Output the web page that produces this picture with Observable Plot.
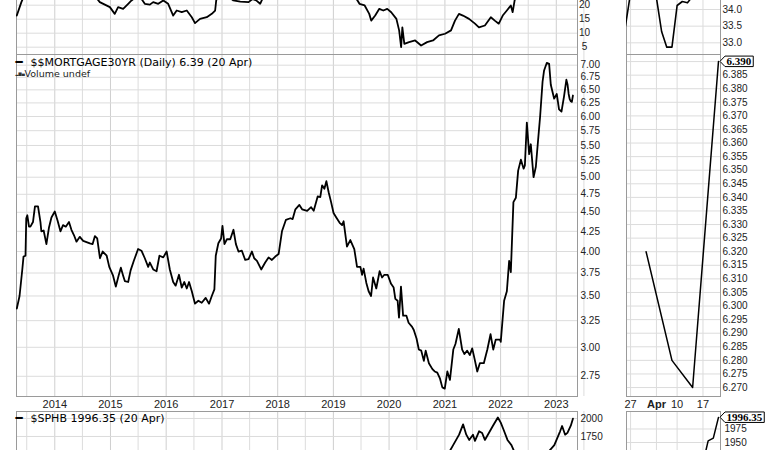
<!DOCTYPE html>
<html><head><meta charset="utf-8">
<script src="https://cdn.jsdelivr.net/npm/d3@7"></script>
<script src="https://cdn.jsdelivr.net/npm/@observablehq/plot@0.6"></script>
<style>
body{margin:0;background:#fff;}
#wrap{position:relative;width:770px;height:450px;overflow:hidden;background:#fff;}
</style></head><body><div id="wrap"></div>
<script>
// ---------- DATA ----------
const mortDates = ["2013-04-27","2013-05-15","2013-06-02","2013-06-10","2013-06-23","2013-06-28","2013-07-05","2013-07-16","2013-07-25","2013-08-11","2013-08-24","2013-09-13","2013-09-29","2013-10-05","2013-10-20","2013-11-07","2013-11-24","2013-12-10","2014-01-01","2014-01-19","2014-02-07","2014-02-24","2014-03-14","2014-04-04","2014-04-20","2014-05-07","2014-05-23","2014-06-14","2014-07-06","2014-08-19","2014-09-06","2014-09-21","2014-10-06","2014-10-24","2014-11-11","2014-12-07","2014-12-24","2015-01-18","2015-02-05","2015-02-23","2015-03-10","2015-03-25","2015-04-05","2015-04-27","2015-05-13","2015-06-03","2015-07-01","2015-07-23","2015-08-14","2015-09-05","2015-09-16","2015-10-08","2015-10-30","2015-11-18","2015-12-13","2016-01-04","2016-01-25","2016-02-16","2016-03-03","2016-03-25","2016-04-12","2016-04-29","2016-05-15","2016-05-30","2016-06-17","2016-07-08","2016-07-30","2016-08-21","2016-09-16","2016-10-08","2016-10-26","2016-11-12","2016-11-21","2016-12-08","2016-12-26","2017-01-04","2017-01-17","2017-02-02","2017-02-24","2017-03-17","2017-04-02","2017-04-19","2017-05-11","2017-06-02","2017-06-24","2017-07-16","2017-07-31","2017-08-18","2017-09-15","2017-10-11","2017-11-02","2017-11-24","2017-12-16","2018-01-07","2018-01-29","2018-02-24","2018-03-25","2018-04-09","2018-04-27","2018-05-23","2018-06-10","2018-06-27","2018-07-13","2018-08-08","2018-08-25","2018-09-20","2018-10-07","2018-10-19","2018-11-03","2018-11-16","2018-12-01","2018-12-17","2019-01-02","2019-01-20","2019-02-11","2019-02-27","2019-03-09","2019-03-31","2019-04-22","2019-05-18","2019-06-05","2019-06-27","2019-07-08","2019-07-18","2019-08-05","2019-08-20","2019-09-05","2019-09-18","2019-10-09","2019-10-31","2019-11-16","2019-12-01","2019-12-23","2020-01-14","2020-01-31","2020-02-11","2020-02-26","2020-03-06","2020-03-19","2020-04-02","2020-04-23","2020-05-08","2020-05-31","2020-06-11","2020-06-29","2020-07-14","2020-07-30","2020-08-16","2020-08-28","2020-09-18","2020-10-11","2020-10-26","2020-11-12","2020-11-30","2020-12-15","2020-12-31","2021-01-17","2021-02-03","2021-02-25","2021-03-11","2021-04-02","2021-04-24","2021-05-09","2021-05-27","2021-06-13","2021-06-29","2021-07-14","2021-08-01","2021-08-18","2021-09-13","2021-10-06","2021-10-27","2021-11-14","2021-11-30","2021-12-28","2022-01-02","2022-01-24","2022-02-11","2022-02-26","2022-03-09","2022-03-26","2022-04-11","2022-04-26","2022-05-14","2022-06-01","2022-06-09","2022-06-22","2022-07-07","2022-07-18","2022-08-05","2022-08-20","2022-09-04","2022-09-17","2022-10-03","2022-10-13","2022-10-31","2022-11-15","2022-11-26","2022-12-18","2023-01-04","2023-01-19","2023-02-04","2023-02-21","2023-03-08","2023-03-16","2023-03-23","2023-03-30","2023-04-06","2023-04-13","2023-04-20"];
const mortRates = [3.37,3.50,3.79,3.94,3.95,4.42,4.46,4.31,4.31,4.37,4.58,4.58,4.37,4.25,4.26,4.09,4.30,4.43,4.51,4.39,4.25,4.33,4.31,4.37,4.27,4.20,4.12,4.18,4.13,4.10,4.09,4.19,4.16,3.92,4.00,3.95,3.82,3.72,3.60,3.72,3.81,3.72,3.66,3.65,3.78,3.89,4.03,4.01,3.92,3.82,3.87,3.79,3.77,3.95,3.93,4.00,3.79,3.65,3.61,3.73,3.59,3.65,3.58,3.65,3.55,3.42,3.45,3.43,3.48,3.42,3.50,3.57,3.95,4.10,4.16,4.32,4.09,4.15,4.15,4.27,4.09,4.00,4.01,3.90,3.91,4.00,3.92,3.89,3.79,3.87,3.93,3.90,3.94,3.97,4.25,4.40,4.42,4.41,4.54,4.60,4.54,4.53,4.52,4.57,4.52,4.72,4.71,4.88,4.83,4.94,4.78,4.64,4.49,4.43,4.36,4.33,4.38,4.06,4.14,4.03,3.82,3.82,3.73,3.80,3.64,3.55,3.50,3.70,3.58,3.77,3.70,3.73,3.73,3.63,3.59,3.47,3.45,3.28,3.60,3.30,3.30,3.23,3.19,3.16,3.08,2.98,2.97,2.88,2.97,2.86,2.81,2.79,2.78,2.73,2.66,2.65,2.79,2.72,2.98,3.03,3.17,2.98,2.94,2.97,2.93,2.99,2.90,2.79,2.86,2.86,2.98,3.12,2.98,3.07,3.07,3.05,3.45,3.55,3.89,3.76,4.64,4.70,5.10,5.27,5.13,5.18,5.89,5.36,5.52,5.00,5.16,5.60,6.00,6.66,6.89,7.05,7.03,6.60,6.33,6.42,6.13,6.09,6.38,6.70,6.60,6.42,6.32,6.28,6.27,6.39];

const topDates = ["2013-04-27","2013-05-27","2013-06-15","2014-03-01","2014-09-25","2014-10-23","2014-12-28","2015-01-29","2015-02-20","2015-03-25","2015-04-27","2015-05-19","2015-06-20","2015-07-20","2015-08-14","2015-09-16","2015-10-08","2015-11-10","2015-12-13","2016-01-14","2016-02-16","2016-03-10","2016-04-12","2016-05-15","2016-06-17","2016-07-08","2016-08-10","2016-09-23","2016-10-26","2016-11-17","2016-11-24","2016-12-15","2017-02-15","2017-03-15","2017-05-01","2017-06-24","2017-07-20","2017-08-13","2017-09-08","2017-09-25","2018-03-01","2019-01-01","2019-05-20","2019-06-08","2019-06-21","2019-07-25","2019-08-24","2019-09-06","2019-10-02","2019-10-29","2019-11-24","2019-12-20","2020-01-15","2020-02-18","2020-03-07","2020-03-20","2020-03-28","2020-04-10","2020-05-11","2020-06-20","2020-07-29","2020-09-06","2020-10-15","2020-11-23","2021-01-02","2021-02-10","2021-03-08","2021-04-03","2021-04-29","2021-06-08","2021-07-17","2021-08-12","2021-09-20","2021-10-29","2021-11-24","2021-12-20","2022-01-15","2022-02-11","2022-03-09","2022-03-21","2022-04-03","2022-04-20","2023-04-20"];
const topValues = [16.3,21.1,23.5,26.0,23.0,21.1,19.3,16.9,19.3,18.7,20.5,21.7,23.0,22.5,20.5,20.2,21.1,20.5,21.7,20.5,16.3,18.1,17.5,18.1,15.7,13.6,15.1,15.7,16.9,18.1,21.7,24.0,23.0,21.7,21.3,21.1,22.2,21.7,20.5,22.5,26.0,24.0,23.0,21.7,20.5,19.9,16.9,14.5,16.3,18.7,18.1,18.7,17.5,15.1,11.0,5.0,12.1,6.2,6.8,7.4,5.6,6.8,7.4,9.2,9.8,11.0,14.5,16.9,16.3,15.1,13.4,12.1,12.75,15.7,14.5,13.4,16.3,18.1,19.9,17.5,21.7,24.0,25.0];

const sphbDates = ["2020-11-15","2021-01-29","2021-02-24","2021-04-04","2021-04-30","2021-05-21","2021-06-09","2021-07-04","2021-07-17","2021-08-13","2021-09-02","2021-09-20","2021-10-16","2021-11-11","2021-12-14","2022-01-02","2022-01-20","2022-02-15","2022-03-13","2022-04-02","2022-06-15","2022-10-01","2022-11-09","2022-12-19","2023-01-26","2023-02-08","2023-02-28","2023-03-15","2023-04-06","2023-04-20"];
const sphbValues = [1400,1533,1630,1775,1919,1775,1702,1775,1688,1822,1798,1702,1798,1895,2014,1942,1847,1702,1630,1533,1400,1420,1533,1630,1822,1895,1775,1800,1900,1996.35];

// right-hand zoom panels (trading days)
const tradeDays = ["2023-03-24","2023-03-27","2023-03-28","2023-03-29","2023-03-30","2023-03-31","2023-04-03","2023-04-04","2023-04-05","2023-04-06","2023-04-10","2023-04-11","2023-04-12","2023-04-13","2023-04-14","2023-04-17","2023-04-18","2023-04-19","2023-04-20"];
const topRightValues = [33.5,34.5,34.6,34.6,34.6,34.6,34.35,33.34,32.87,32.87,34.12,34.24,34.2,34.4,34.5,34.6,34.6,34.6,34.6];
const mortRightDays = ["2023-03-30","2023-04-06","2023-04-13","2023-04-20"];
const mortRightValues = [6.32,6.28,6.27,6.39];
const sphbRightDays = ["2023-04-13","2023-04-14","2023-04-17","2023-04-18","2023-04-19","2023-04-20"];
const sphbRightValues = [1885,1895,1912,1953,1958,1996.35];

// tick labels
const mainTicks = [2.75,3.00,3.25,3.50,3.75,4.00,4.25,4.50,4.75,5.00,5.25,5.50,5.75,6.00,6.25,6.50,6.75,7.00];
const topTicks = [5,10,15,20];
const sphbTicks = [1500,1750,2000];
const yearLabels = ["2014","2015","2016","2017","2018","2019","2020","2021","2022","2023"];
const mortRightTicks = [6.270,6.275,6.280,6.285,6.290,6.295,6.300,6.305,6.310,6.315,6.320,6.325,6.330,6.335,6.340,6.345,6.350,6.355,6.360,6.365,6.370,6.375,6.380,6.385,6.390];
const topRightTicks = [33.0,33.5,34.0];
const sphbRightTicks = [1950,1975];
const rightTickDays = ["2023-03-27","2023-04-03","2023-04-10","2023-04-17"];
const rightTickLabels = ["27","Apr","10","17"];
const mortTitle = "$$MORTGAGE30YR (Daily) 6.39 (20 Apr)";
const sphbTitle = "$SPHB 1996.35 (20 Apr)";

// ---------- BUILD ----------
const parse = d3.utcParse("%Y-%m-%d");
const mort = mortDates.map((d, i) => ({date: parse(d), value: mortRates[i]}));
const top1 = topDates.map((d, i) => ({date: parse(d), value: topValues[i]}));
const sphb = sphbDates.map((d, i) => ({date: parse(d), value: sphbValues[i]}));
const topR = tradeDays.map((d, i) => ({i, value: topRightValues[i]}));
const mortR = mortRightDays.map((d, k) => ({i: tradeDays.indexOf(d), value: mortRightValues[k]}));
const sphbR = sphbRightDays.map((d, k) => ({i: tradeDays.indexOf(d), value: sphbRightValues[k]}));
const rightTickIdx = rightTickDays.map(d => tradeDays.indexOf(d));
const rightLabelMap = new Map(rightTickIdx.map((v, k) => [v, rightTickLabels[k]]));
const years = yearLabels.map(y => parse(y + "-01-01"));
const gridYear = d3.utcYear.range(parse("2014-01-01"), parse("2023-06-01"));
const gridHalf = d3.utcYear.range(parse("2013-01-01"), parse("2023-06-01")).map(d => d3.utcMonth.offset(d, 6));

const W = 770;
const FS = "Liberation Sans, Arial, Helvetica, sans-serif";
const VF = "DejaVu Sans, Verdana, sans-serif";
const xDomain = [parse("2013-04-25"), parse("2023-05-20")];
const rDomain = [0.21, 18.39];
const L = {marginLeft: 16, marginRight: W - 577};
const R = {marginLeft: 626, marginRight: W - 720};
const style = {fontFamily: FS, fontSize: "10px", color: "#222", background: "transparent", overflow: "visible"};
const GRID = "#dcdcdc", GRIDY = "#cfcfcf", BORDER = "#9a9a9a";

const wrap = document.getElementById("wrap");
function add(svg, top) {
  svg.style.position = "absolute"; svg.style.left = "0px"; svg.style.top = top + "px";
  wrap.appendChild(svg); return svg;
}
function leftGrid() {
  return [Plot.ruleX(gridHalf, {stroke: GRID}), Plot.ruleX(gridYear, {stroke: GRIDY})];
}

// top-left strip
add(Plot.plot({
  width: W, height: 58, marginTop: 0, marginBottom: 2, ...L, style,
  x: {type: "utc", domain: xDomain, label: null, axis: null},
  y: {domain: [2.39, 22.39], label: null},
  marks: [
    ...leftGrid(),
    Plot.ruleY(topTicks, {stroke: GRID}),
    Plot.frame({stroke: BORDER}),
    Plot.axisY(topTicks, {anchor: "right", tickSize: 0, tickPadding: 7, textAnchor: "middle", tickFormat: d => String(d), fontSize: 10}),
    Plot.line(top1, {x: "date", y: "value", stroke: "#000", strokeWidth: 1.8, clip: true})
  ]
}), -2);

// top-right strip
add(Plot.plot({
  width: W, height: 58, marginTop: 0, marginBottom: 2, ...R, style,
  x: {domain: rDomain, label: null, axis: null},
  y: {domain: [32.65, 34.33], label: null},
  marks: [
    Plot.ruleX(rightTickIdx, {stroke: GRID}),
    Plot.ruleY(topRightTicks, {stroke: GRID}),
    Plot.frame({stroke: BORDER}),
    Plot.axisY(topRightTicks, {anchor: "right", tickSize: 0, tickPadding: 2, tickFormat: d => d.toFixed(1), fontSize: 10}),
    Plot.line(topR, {x: "i", y: "value", stroke: "#000", strokeWidth: 1.6, clip: true})
  ]
}), -2);

// main mortgage panel
add(Plot.plot({
  width: W, height: 358, marginTop: 0, marginBottom: 16, ...L, style,
  x: {type: "utc", domain: xDomain, label: null},
  y: {type: "log", domain: [2.588, 7.228], label: null},
  marks: [
    ...leftGrid(),
    Plot.ruleY(mainTicks, {stroke: GRID}),
    Plot.frame({stroke: BORDER}),
    Plot.axisY(mainTicks, {anchor: "right", tickSize: 0, tickPadding: 3, tickFormat: d => d.toFixed(2), fontSize: 10}),
    Plot.axisX(years, {anchor: "bottom", tickSize: 0, tickPadding: 4, tickFormat: d3.utcFormat("%Y"), fontSize: 11}),
    Plot.line(mort, {x: "date", y: "value", stroke: "#000", strokeWidth: 1.8, clip: true}),
    Plot.text(["\u2501"], {frameAnchor: "top-left", dx: -1, dy: 8, textAnchor: "start", lineAnchor: "middle", fontFamily: VF, fontSize: 12, fontWeight: "bold", fill: "#000"}),
    Plot.text([mortTitle], {frameAnchor: "top-left", dx: 14, dy: 8, textAnchor: "start", lineAnchor: "middle", fontFamily: VF, fontSize: 11, fill: "#000"}),
    Plot.text(["\u2582\u2586\u2584"], {frameAnchor: "top-left", dx: -1, dy: 19, textAnchor: "start", lineAnchor: "middle", fontFamily: VF, fontSize: 4, fill: "#333"}),
    Plot.text(["Volume undef"], {frameAnchor: "top-left", dx: 8, dy: 19, textAnchor: "start", lineAnchor: "middle", fontFamily: VF, fontSize: 9.5, fill: "#222"})
  ]
}), 54);

// right mortgage zoom
const mortRightSvg = add(Plot.plot({
  width: W, height: 358, marginTop: 0, marginBottom: 16, ...R, style,
  x: {domain: rDomain, label: null},
  y: {domain: [6.2667, 6.3926], label: null},
  marks: [
    Plot.ruleX(rightTickIdx, {stroke: GRID}),
    Plot.ruleY(mortRightTicks, {stroke: GRID}),
    Plot.frame({stroke: BORDER}),
    Plot.axisY(mortRightTicks.slice(0, -1), {anchor: "right", tickSize: 0, tickPadding: 2, tickFormat: d => d.toFixed(3), fontSize: 10}),
    Plot.axisX(rightTickIdx, {anchor: "bottom", tickSize: 0, tickPadding: 4, tickFormat: d => rightLabelMap.get(d), fontSize: 11}),
    Plot.line(mortR, {x: "i", y: "value", stroke: "#000", strokeWidth: 1.5, clip: true}),
    Plot.text([mortRightValues[mortRightValues.length - 1]], {y: d => d, frameAnchor: "right", dx: 6, textAnchor: "start", text: d => d.toFixed(3), fontFamily: "Liberation Serif, serif", fontWeight: "bold", fontSize: 11, fill: "#000"})
  ]
}), 54);

// bottom-left SPHB strip
add(Plot.plot({
  width: W, height: 52, marginTop: 1, marginBottom: 0, ...L, style,
  x: {type: "utc", domain: xDomain, label: null, axis: null},
  y: {domain: [1388.7, 2096.8], label: null},
  marks: [
    ...leftGrid(),
    Plot.ruleY(sphbTicks, {stroke: GRID}),
    Plot.frame({stroke: BORDER}),
    Plot.axisY(sphbTicks, {anchor: "right", tickSize: 0, tickPadding: 3, tickFormat: d => String(d), fontSize: 10}),
    Plot.line(sphb, {x: "date", y: "value", stroke: "#000", strokeWidth: 1.8, clip: true}),
    Plot.text(["\u2501"], {frameAnchor: "top-left", dx: -1, dy: 7, textAnchor: "start", lineAnchor: "middle", fontFamily: VF, fontSize: 12, fontWeight: "bold", fill: "#000"}),
    Plot.text([sphbTitle], {frameAnchor: "top-left", dx: 14, dy: 7, textAnchor: "start", lineAnchor: "middle", fontFamily: VF, fontSize: 11, fill: "#000"})
  ]
}), 410);

// bottom-right SPHB zoom
const sphbRightSvg = add(Plot.plot({
  width: W, height: 52, marginTop: 1, marginBottom: 0, ...R, style,
  x: {domain: rDomain, label: null, axis: null},
  y: {domain: [1913.1, 2007.3], label: null},
  marks: [
    Plot.ruleX(rightTickIdx, {stroke: GRID}),
    Plot.ruleY(sphbRightTicks, {stroke: GRID}),
    Plot.frame({stroke: BORDER}),
    Plot.axisY(sphbRightTicks, {anchor: "right", tickSize: 0, tickPadding: 4, tickFormat: d => String(d), fontSize: 10}),
    Plot.line(sphbR, {x: "i", y: "value", stroke: "#000", strokeWidth: 1.5, clip: true}),
    Plot.text([sphbRightValues[sphbRightValues.length - 1]], {y: d => d, frameAnchor: "right", dx: 6, textAnchor: "start", text: d => d.toFixed(2), fontFamily: "Liberation Serif, serif", fontWeight: "bold", fontSize: 11, fill: "#000"})
  ]
}), 410);

// value tags (arrow boxes) and bold month label
function addTag(svg, label) {
  d3.select(svg).selectAll("text").filter(function() { return this.textContent === label; }).each(function() {
    const b = this.getBBox();
    const x0 = b.x - 1.5, x1 = b.x + b.width + 1.5, y0 = b.y + 1, y1 = b.y + b.height - 0.5, ym = (y0 + y1) / 2;
    const p = `M${x0 - 5},${ym}L${x0},${y0}L${x1},${y0}L${x1},${y1}L${x0},${y1}Z`;
    const path = document.createElementNS("http://www.w3.org/2000/svg", "path");
    path.setAttribute("d", p); path.setAttribute("fill", "#fff"); path.setAttribute("stroke", "#000"); path.setAttribute("stroke-width", "1");
    const tr = this.getAttribute("transform"); if (tr) path.setAttribute("transform", tr);
    this.parentNode.insertBefore(path, this);
  });
}
addTag(mortRightSvg, "6.390");
addTag(sphbRightSvg, "1996.35");
d3.select(mortRightSvg).selectAll("text").filter(function() { return this.textContent === "Apr"; }).attr("font-weight", "bold");
</script></body></html>
